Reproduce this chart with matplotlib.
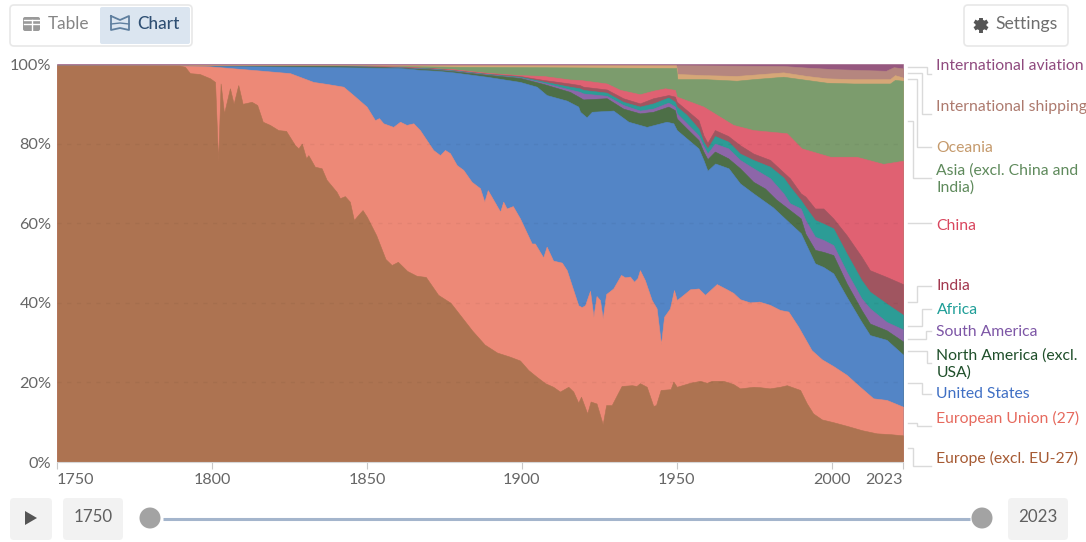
import numpy as np
import matplotlib
matplotlib.use("Agg")
import matplotlib.pyplot as plt
from matplotlib.patches import FancyBboxPatch, Circle, Polygon

plt.rcParams['font.family'] = ['Lato', 'DejaVu Sans']

# Upper edge of each stacked band, in percent (year, cumulative share)
europe_y = [1750,1789.5,1791.3,1792.9,1796,1799.4,1801,1802,1802.8,1803.9,1805.8,1807,1808.5,1809.9,1812.8,1814.6,1816.4,1818.7,1821.4,1823.9,1826.8,1827.9,1829,1830.4,1831.1,1833.2,1835.4,1837,1840.2,1841.3,1842.9,1844.5,1845.8,1847.1,1848.6,1850,1853,1856,1858,1860,1863,1866,1869,1873,1877,1880,1884,1888,1892,1896,1899.4,1902.1,1904.8,1907.5,1910.1,1912.3,1915,1916.6,1918.2,1919.1,1921.1,1922.2,1924.1,1926.1,1927.2,1929,1932.2,1935.5,1937,1938.1,1940.3,1942.4,1943.3,1944.8,1948,1948.9,1950,1954.3,1957.5,1959.7,1961.3,1965,1968.2,1970.4,1974.7,1976.8,1980,1983.3,1985.5,1989.8,1991.9,1994,1996.8,2000.5,2004.8,2009.7,2014.5,2018.8,2023]
europe_v = [99.6,99.6,99.3,97.7,97.5,96.4,95.5,75.5,95.1,87.6,93.9,90,94.7,90,90.5,89.7,85.5,84.7,83.4,83.2,79.6,78.8,80,76.3,77.1,74.2,73.8,70.9,67.9,66.3,66.8,65.4,60.8,62,63.3,61.6,57,51,49.5,50.3,48,46.8,46.5,42,40,37,33,29.5,27.5,26.5,25.5,23.1,21.4,19.8,18.9,17.7,18.9,17.7,14.9,16.4,12.2,15.2,14.7,9.5,14.3,14.3,19.1,19.3,19.1,19.8,18.9,14.1,14.3,18.1,18.3,20.2,18.9,19.9,20.4,19.9,20.4,20.4,19.6,18.5,18.9,18.8,18.5,18.9,19.3,18.1,14.8,12.2,10.7,10,9.1,8,7.2,7,6.7]

eu_y = [1750,1790,1799.4,1813.3,1825.2,1832.7,1837,1842.4,1845.6,1849.9,1852.6,1853.9,1855.3,1858.5,1860.7,1862.8,1865,1867.1,1871.4,1873.6,1875.2,1876.8,1879,1881.1,1883.8,1886.5,1887.9,1889,1893,1894,1895.1,1897.1,1899.4,1903.2,1904.2,1906.9,1908,1910.1,1912.9,1914.5,1916.6,1918.2,1919.3,1920.4,1922,1923.1,1924.1,1925.2,1926.1,1927.2,1929.5,1932,1933.3,1934.9,1936.2,1937.3,1938.1,1939.7,1941.9,1943.5,1944.9,1945.9,1947.8,1949.1,1950,1952.1,1954.3,1957,1959.1,1962.9,1966.1,1968.2,1970.4,1973.6,1976.6,1980,1983.3,1986,1989.2,1993.5,1996.8,2000.5,2004.8,2009.1,2013.4,2017.7,2023]
eu_v = [99.6,99.6,99.4,98.5,97.7,95.5,95,94.3,92.2,89.3,85.9,86.4,85.1,84.2,85.5,84.7,85.1,83.4,78.4,77.1,78.4,77.6,74.6,73.4,70.4,68.8,65.4,68.3,62.9,65.4,63.7,64.3,61.2,54.9,54.9,51.4,54.1,50.6,50.1,48.2,43.2,39.4,38.9,39.4,43,36.5,41.7,40.7,36.1,42.2,43.6,47,46.4,46.6,45.3,46.2,48.2,45.7,40.7,38.6,29.6,36.5,38.6,43.2,40.7,42,43.4,43.6,42,44.7,43.4,42.5,40.9,40.1,40.3,39.5,38.2,37.8,34,28.1,25.8,24.1,21.9,18.9,16,15.6,13.9]

us_y = [1750,1790,1799,1830,1860,1865,1867.1,1872.5,1877.9,1888.7,1899.4,1904.8,1908,1914.5,1918.2,1918.8,1920.9,1922.6,1929.5,1934.4,1940.3,1946.7,1948.9,1950,1953.2,1957,1958.6,1959.9,1962.4,1966.7,1970.4,1974.7,1981,1986.5,1990,1991.5,1994.6,1997.3,2000.5,2004.8,2009.6,2012.3,2017.7,2023]
us_v = [99.6,99.6,99.5,99.3,99,98.7,98.5,98.3,97.9,96.8,95.5,94.3,92.2,90.8,89.3,88,86.6,88,88.3,85.5,84.2,85.5,85.1,83.4,81.3,78.8,75.9,73.2,75,73.8,70,67.5,64,60,57.5,55,49.9,49,47.4,41.5,35.2,31.9,30.7,27]

na_y = [1750,1840,1856,1870,1877.9,1888.6,1899.4,1906.9,1915.5,1918.7,1919.8,1927.4,1932.7,1938.1,1942.4,1947.3,1949.4,1950,1953.2,1957,1958.6,1959.9,1962.3,1966.6,1970.4,1974.7,1978.5,1982,1986.5,1990,1991.5,1994.6,1997.3,2000.5,2004.8,2009.6,2012.3,2017.7,2023]
na_v = [99.6,99.5,99.2,98.7,98.2,97.3,96.5,95,93,91.6,91.1,91.4,88.8,87.6,88,89.3,88.4,86.3,83.8,80.9,78,76.1,78,76.3,73.8,70.4,68.7,66,63.3,61.2,57.4,53.3,52.8,52,44.9,38.2,34.8,33.1,30.3]

upper_y = [1750,1840,1856,1870,1877.9,1888.6,1899.4,1906.9,1915.5,1918.7,1919.8,1927.4,1932.7,1938.1,1942.4,1947.3,1949.4,1950,1953.2,1957,1958.6,1959.9,1962.3,1966.6,1970.4,1974.7,1980.1,1984.4,1986.5,1990,1991.5,1994.6,1997.3,2000.5,2004.8,2009.6,2012.3,2017.7,2023]
sa_v = [99.6,99.5,99.25,98.8,98.3,97.4,96.6,95.3,93.6,93,92.6,92,89.7,88.3,88.8,90.3,89.3,87.6,85.1,82.1,79.4,77.5,80,78.8,75.9,73.8,71.3,67.5,65,63.7,60.8,56.6,55.8,54.5,47.8,41.1,38.6,35.2,33.3]
africa_v = [99.6,99.5,99.3,98.9,98.4,97.5,96.8,95.6,94.3,93.9,93.5,92.8,90.5,89.3,90.1,91.6,90.5,89.3,87.2,83.8,80.5,78.8,81.9,80.5,77.5,75.9,74.2,71.5,69.2,65.8,64.1,60.8,59.9,58.7,52.4,45.7,42.8,39.8,37]
india_v = [99.6,99.5,99.35,99,98.5,97.6,97,96,95.1,94.7,94.3,93.6,91.4,90.1,91.4,92.2,91.8,90.5,88.4,85.9,82.1,80.2,83.4,81.9,79.6,77.5,75.9,72.8,71.3,67.5,66.7,63.7,63.7,61.2,57,51.6,48.2,46.5,44.7]

china_y = [1750,1840,1860,1877.9,1888.6,1899.4,1906.9,1915.5,1918.7,1927.4,1931.7,1938.1,1942.4,1946.2,1949.4,1950,1958.6,1968.2,1974.7,1985.5,1990.3,1999.5,2008,2016.6,2023]
china_v = [99.6,99.55,99.4,98.7,97.8,97.2,97,96.1,96,95.1,93.5,92.4,93.3,93.9,93.5,91.8,89.3,84.7,83.4,82.6,78.8,76.7,76.7,74.9,75.7]

asia_y = [1750,1850,1880,1949.8,1950.2,1959,1969.3,1974.7,1984.4,1991.9,1998.4,2007,2018.8,2020.4,2023]
asia_v = [99.6,99.6,99.3,99.0,96.2,96.2,95.8,96.2,96.8,96,95.3,95.1,95.1,96,95.8]

oceania_y = [1750,1949.8,1950.2,1959,1969.3,1984.4,1991.9,1998.4,2007,2018.8,2020.4,2023]
oceania_v = [99.7,99.7,97.5,97.2,97,97.9,97,96.4,96.2,96.2,97.2,96.6]

shipping_y = [1750,1949.8,1950.2,1969.3,1984.4,1991.9,2001,2017.5,2020,2023]
shipping_v = [99.6,99.6,99.7,99.6,99.5,99.1,98.7,98.3,99.2,98.9]

aviation_y = [1750,2023]
aviation_v = [100,100]

# Painted from the back (top of the stack) to the front
layers = [
    (aviation_y, aviation_v, '#96587f'), (shipping_y, shipping_v, '#b5867f'),
    (oceania_y, oceania_v, '#d6a777'), (asia_y, asia_v, '#7c9c6d'),
    (china_y, china_v, '#e06172'), (upper_y, india_v, '#a05560'),
    (upper_y, africa_v, '#2c9c96'), (upper_y, sa_v, '#8d66a9'),
    (na_y, na_v, '#4d6f47'), (us_y, us_v, '#5385c6'),
    (eu_y, eu_v, '#ed8977'), (europe_y, europe_v, '#ad7351'),
]

labels = [
    ('International aviation', 66.5, '#8f4a7e'), ('International shipping', 106.5, '#ad7a6e'),
    ('Oceania', 147.5, '#c59a6c'), ('Asia (excl. China and', 170.5, '#5f8a5c'), ('India)', 187.5, '#5f8a5c'),
    ('China', 225.5, '#d9465e'), ('India', 286.5, '#a2384f'), ('Africa', 310.5, '#1f9e98'),
    ('South America', 332.5, '#7d56a6'), ('North America (excl.', 355.5, '#1f4f2a'), ('USA)', 372.5, '#1f4f2a'),
    ('United States', 394.5, '#3f6fc4'), ('European Union (27)', 418.5, '#e66a5e'), ('Europe (excl. EU-27)', 458.5, '#a65a33'),
]
connectors = [
    ([908,926.7,926.7,931],[67.3,67.3,74,74]), ([908,921.7,921.7,931],[73.3,73.3,114.3,114.3]),
    ([908,917.3,917.3,931],[79.3,79.3,146.7,146.7]), ([908,913.3,913.3,931],[121,121,177.7,177.7]),
    ([908,931],[223.3,223.3]), ([908,917.3,917.3,931],[302.3,302.3,286,286]),
    ([908,921.7,921.7,931],[326,326,309,309]), ([908,926,926,931],[339.3,339.3,331,331]),
    ([908,926.7,926.7,931],[350.7,350.7,363.3,363.3]), ([908,921.7,921.7,931],[383.3,383.3,394.3,394.3]),
    ([908,917.3,917.3,931],[422.7,422.7,425.7,425.7]), ([908,913.3,913.3,931],[448.3,448.3,465.7,465.7]),
]

W, H = 1086, 542
fig = plt.figure(figsize=(W/100, H/100), dpi=100, facecolor='white')

ax = fig.add_axes([57/W, 1-462/H, 846/W, 398/H])
for xs, ys, c in layers:
    ax.fill_between(xs, 0, ys, color=c, lw=0.4, zorder=2)
ax.set_xlim(1750, 2023)
ax.set_ylim(0, 100)
for s in ['top', 'right', 'left']:
    ax.spines[s].set_visible(False)
ax.spines['bottom'].set_color('#d6d6d6')
ax.set_yticks([0, 20, 40, 60, 80, 100])
ax.set_yticklabels(['0%', '20%', '40%', '60%', '80%', '100%'], fontsize=11.7, color='#666666')
ax.tick_params(axis='y', length=0, pad=4)
ax.set_xticks([1750, 1800, 1850, 1900, 1950, 2000, 2023])
ax.set_xticklabels(['1750', '1800', '1850', '1900', '1950', '2000', '2023'], fontsize=11.6, color='#666666')
ax.tick_params(axis='x', length=5, color='#c8c8c8', pad=3)
xt = ax.get_xticklabels()
xt[0].set_ha('left')
xt[-1].set_ha('right')
for v in [20, 40, 60, 80]:
    ax.axhline(v, color='black', alpha=0.045, lw=1, dashes=(3, 4), zorder=3)

ui = fig.add_axes([0, 0, 1, 1], facecolor='none')
ui.set_xlim(0, W)
ui.set_ylim(H, 0)
ui.axis('off')

def box(x0, y0, x1, y1, fc='white', ec='none', r=4, lw=1.2):
    ui.add_patch(FancyBboxPatch((x0+r, y0+r), x1-x0-2*r, y1-y0-2*r,
                                boxstyle=f'round,pad={r},rounding_size={r}',
                                fc=fc, ec=ec, lw=lw))

# connectors and series labels
for xs, ys in connectors:
    ui.plot(xs, ys, color='#dadada', lw=1, solid_joinstyle='miter')
for t, y, c in labels:
    ui.text(936.5, y, t, color=c, fontsize=11.35, va='center', ha='left')

# Table / Chart switch
box(10, 5, 192, 46, ec='#e8e8e8')
box(100, 7, 190, 44, fc='#dbe5f0', r=2)
box(23, 17, 40, 31, fc='#9a9a9a', r=2)
ui.plot([24, 39], [24, 24], color='white', lw=1)
ui.plot([31.5, 31.5], [20, 30], color='white', lw=1)
ui.plot([24, 39], [20, 20], color='white', lw=1)
ui.plot([111, 111, 120, 129, 129, 120, 111], [16, 30, 28, 30, 16, 20, 16], color='#5f7f9f', lw=1.3)
ui.plot([111, 120, 129], [24, 23, 24], color='#5f7f9f', lw=1)
ui.text(48, 24, 'Table', fontsize=12.4, color='#858585', va='center')
ui.text(137, 24, 'Chart', fontsize=12.4, color='#2f4f73', va='center', fontweight='medium')

# Settings button
box(964, 5, 1068, 46, ec='#e8e8e8')
for a in [np.pi/6, np.pi/2, 5*np.pi/6]:
    ui.plot([981-7.5*np.cos(a), 981+7.5*np.cos(a)], [25-7.5*np.sin(a), 25+7.5*np.sin(a)],
            color='#555555', lw=2.8, solid_capstyle='butt')
ui.add_patch(Circle((981, 25), 5.5, fc='#555555', ec='none'))
ui.add_patch(Circle((981, 25), 2.3, fc='white', ec='none'))
ui.text(995, 24, 'Settings', fontsize=12.7, color='#6e6e6e', va='center')

# time controls
box(10, 498, 52, 540, fc='#f2f2f2')
ui.add_patch(Polygon([[25, 511], [25, 525], [37, 518]], fc='#555555', ec='none'))
box(63, 498, 123, 540, fc='#f2f2f2')
ui.text(93, 517, '1750', fontsize=12.2, color='#5f5f5f', ha='center', va='center')
box(1008, 498, 1068, 540, fc='#f2f2f2')
ui.text(1038, 517, '2023', fontsize=12.2, color='#5f5f5f', ha='center', va='center')
ui.plot([163, 970], [518.5, 518.5], color='#a4b5cc', lw=2.2, solid_capstyle='butt')
ui.add_patch(Circle((150, 518), 10.5, fc='#a3a3a3', ec='none'))
ui.add_patch(Circle((982, 518), 10.5, fc='#a3a3a3', ec='none'))

fig.savefig('out.png', dpi=100)
